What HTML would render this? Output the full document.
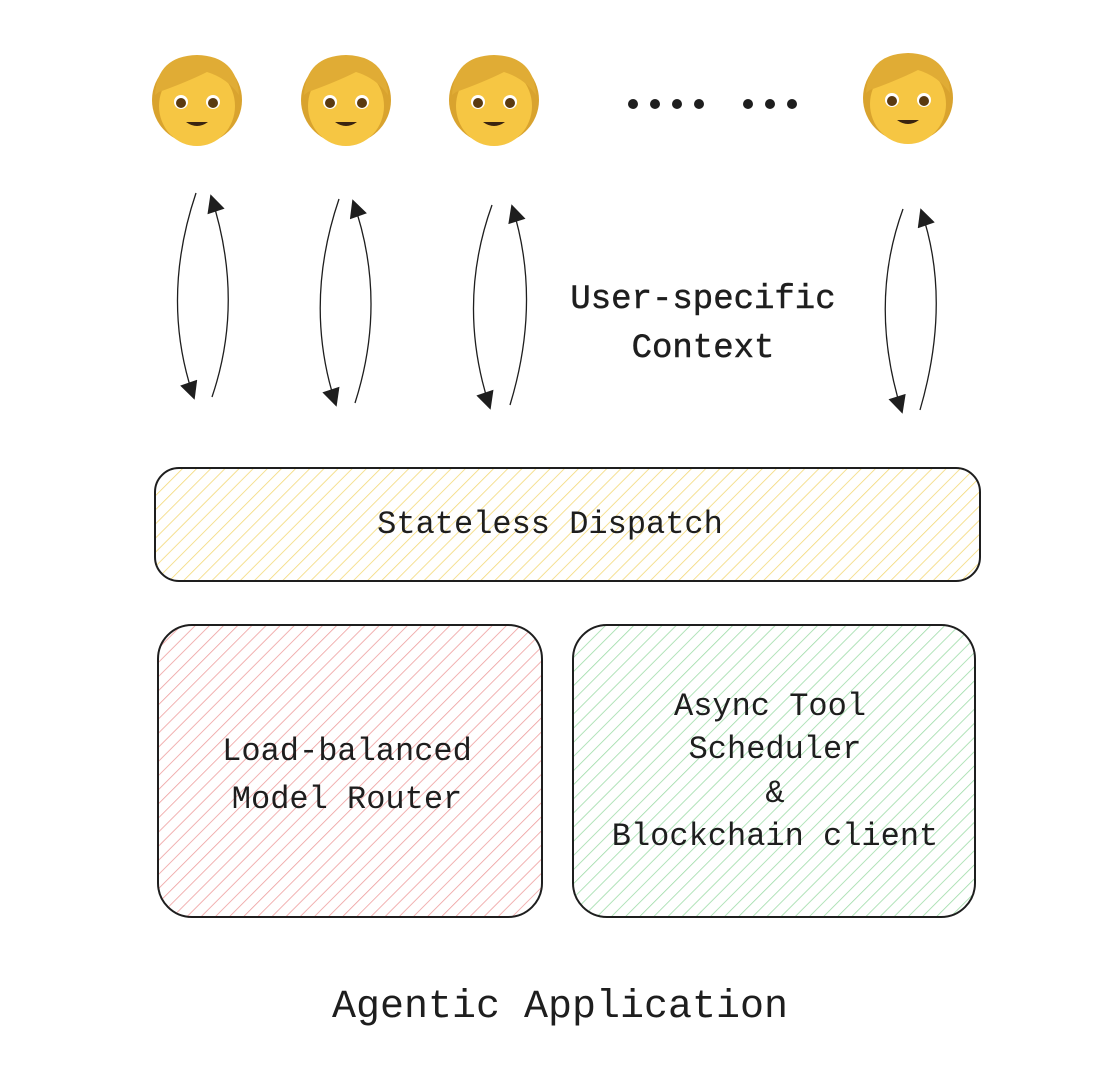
<!DOCTYPE html>
<html><head><style>
body{margin:0;background:#fff;}
svg{display:block}
text{font-family:"Liberation Mono",monospace;fill:#1e1e1e;}
</style></head><body>
<svg width="1094" height="1072" viewBox="0 0 1094 1072" xmlns="http://www.w3.org/2000/svg">
<defs>
<pattern id="hy" width="10" height="10" patternUnits="userSpaceOnUse" patternTransform="rotate(45)">
<line x1="0" y1="0" x2="0" y2="10" stroke="#f3d977" stroke-width="1.6"/></pattern>
<pattern id="hr" width="10" height="10" patternUnits="userSpaceOnUse" patternTransform="rotate(45)">
<line x1="0" y1="0" x2="0" y2="10" stroke="#ee9e9e" stroke-width="1.6"/></pattern>
<pattern id="hg" width="10" height="10" patternUnits="userSpaceOnUse" patternTransform="rotate(45)">
<line x1="0" y1="0" x2="0" y2="10" stroke="#9edca8" stroke-width="1.6"/></pattern>
<marker id="ah" viewBox="0 0 10 10" refX="9" refY="5" markerWidth="20" markerHeight="18" orient="auto-start-reverse" markerUnits="userSpaceOnUse">
<path d="M0,0 L10,5 L0,10 z" fill="#1e1e1e"/></marker>
<g id="face">
<ellipse cx="0" cy="0" rx="45" ry="44" fill="#d9a32e"/>
<ellipse cx="0" cy="6" rx="38" ry="40" fill="#f6c643"/>
<path d="M-42,-5 Q-40,-44 0,-45 Q40,-44 42,-5 Q30,-22 10,-28 Q-10,-18 -38,-8 Z" fill="#e0ac35"/>
<ellipse cx="-16" cy="2" rx="7" ry="7" fill="#fff"/><circle cx="-16" cy="3" r="5" fill="#5a3a10"/>
<ellipse cx="16" cy="2" rx="7" ry="7" fill="#fff"/><circle cx="16" cy="3" r="5" fill="#5a3a10"/>
<path d="M-11,22 Q0,30 11,22 Z" fill="#3a2410"/>
</g>
</defs>
<use href="#face" x="197" y="100"/>
<use href="#face" x="346" y="100"/>
<use href="#face" x="494" y="100"/>
<use href="#face" x="908" y="98"/>
<g fill="#1e1e1e">
<circle cx="633" cy="104" r="5"/><circle cx="655" cy="104" r="5"/><circle cx="677" cy="104" r="5"/><circle cx="699" cy="104" r="5"/>
<circle cx="748" cy="104" r="5"/><circle cx="770" cy="104" r="5"/><circle cx="792" cy="104" r="5"/>
</g>
<g fill="none" stroke="#1e1e1e" stroke-width="1.3">
<path d="M196,193 Q160,300 194,398" marker-end="url(#ah)"/>
<path d="M212,397 Q245,300 211,196" marker-end="url(#ah)"/>
<path d="M339,199 Q303,305 336,405" marker-end="url(#ah)"/>
<path d="M355,403 Q388,300 353,201" marker-end="url(#ah)"/>
<path d="M492,205 Q456,305 490,408" marker-end="url(#ah)"/>
<path d="M510,405 Q542,300 512,206" marker-end="url(#ah)"/>
<path d="M903,209 Q868,305 902,412" marker-end="url(#ah)"/>
<path d="M920,410 Q952,300 921,210" marker-end="url(#ah)"/>
</g>
<text x="703" y="308" font-size="34" text-anchor="middle" stroke="#1e1e1e" stroke-width="0.5">User-specific</text>
<text x="703" y="357" font-size="34" text-anchor="middle" stroke="#1e1e1e" stroke-width="0.5">Context</text>
<rect x="155" y="468" width="825" height="113" rx="24" fill="url(#hy)" stroke="#1e1e1e" stroke-width="2"/>
<text x="550" y="533" font-size="32" text-anchor="middle">Stateless Dispatch</text>
<rect x="158" y="625" width="384" height="292" rx="34" fill="url(#hr)" stroke="#1e1e1e" stroke-width="2"/>
<text x="347" y="760" font-size="32" text-anchor="middle">Load-balanced</text>
<text x="347" y="808" font-size="32" text-anchor="middle">Model Router</text>
<rect x="573" y="625" width="402" height="292" rx="34" fill="url(#hg)" stroke="#1e1e1e" stroke-width="2"/>
<text x="770" y="715" font-size="32" text-anchor="middle">Async Tool</text>
<text x="775" y="758" font-size="32" text-anchor="middle">Scheduler</text>
<text x="775" y="802" font-size="32" text-anchor="middle">&amp;</text>
<text x="775" y="845" font-size="32" text-anchor="middle">Blockchain client</text>
<text x="560" y="1017" font-size="40" text-anchor="middle">Agentic Application</text>
</svg>
</body></html>
